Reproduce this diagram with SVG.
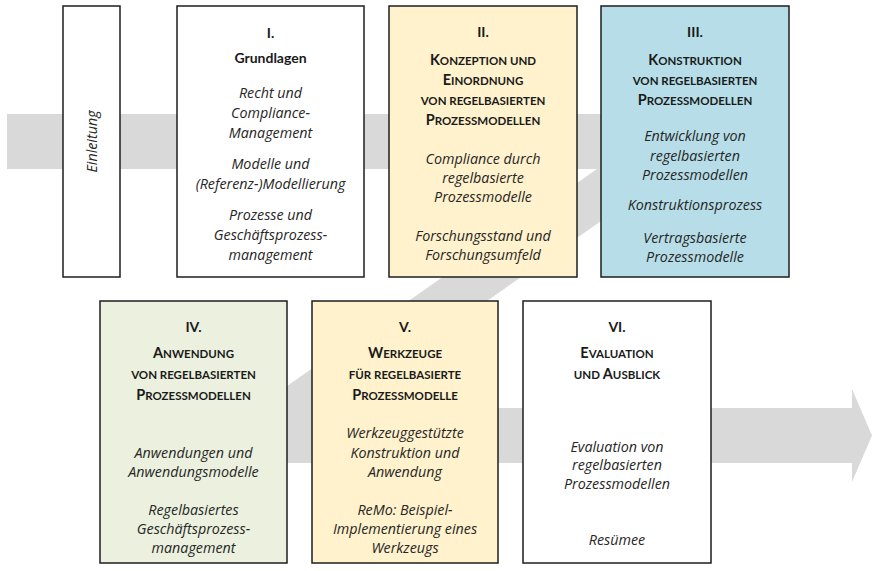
<svg xmlns="http://www.w3.org/2000/svg" width="872" height="571" viewBox="0 0 872 571">
  <defs>
    <filter id="soft" x="-5%" y="-5%" width="110%" height="110%">
      <feGaussianBlur stdDeviation="0.7"/>
    </filter>
    <style>
      .box { stroke: #1e1e1e; stroke-width: 1.5; }
      .white { fill: #ffffff; }
      .yellow { fill: #fff2cc; }
      .blue { fill: #b7dee8; }
      .green { fill: #ebf1de; }
      text { font-family: Lato, "Liberation Sans", sans-serif; fill: #1a1a1a; text-anchor: middle; }
      .num { font-size: 14px; font-weight: bold; }
      .head { font-size: 11.5px; font-weight: bold; }
      .cap { font-size: 14.5px; }
      .it { font-family: "Open Sans", "Liberation Sans", sans-serif; font-size: 14.3px; font-style: italic; fill: #262626; }
    </style>
  </defs>

  <g id="connectors">
    <polygon id="flow-arrow" fill="#d9d9d9" filter="url(#soft)"
      points="7,114 754,114 334,408 852,408 852,389 872,435.5 852,482 852,463 177,463 597,169 7,169"/>
  </g>

  <g id="einleitung">
    <rect class="box white" x="63" y="6" width="57" height="271"/>
    <text class="it" transform="translate(96.5,141.5) rotate(-90)">Einleitung</text>
  </g>

  <g id="node-1">
    <rect class="box white" x="177" y="6" width="187" height="271"/>
    <text class="num" x="270.5" y="38">I.</text>
    <text class="num" x="270.5" y="63">Grundlagen</text>
    <text class="it" x="270.5" y="98">Recht und</text>
    <text class="it" x="270.5" y="118">Compliance-</text>
    <text class="it" x="270.5" y="138">Management</text>
    <text class="it" x="270.5" y="169">Modelle und</text>
    <text class="it" x="270.5" y="189">(Referenz-)Modellierung</text>
    <text class="it" x="270.5" y="220">Prozesse und</text>
    <text class="it" x="270.5" y="240">Geschäftsprozess-</text>
    <text class="it" x="270.5" y="260">management</text>
  </g>

  <g id="node-2">
    <rect class="box yellow" x="389" y="6" width="188" height="271"/>
    <text class="num" x="483" y="37">II.</text>
    <text class="head" x="483" y="65"><tspan class="cap">K</tspan>ONZEPTION UND</text>
    <text class="head" x="483" y="85"><tspan class="cap">E</tspan>INORDNUNG</text>
    <text class="head" x="483" y="105">VON REGELBASIERTEN</text>
    <text class="head" x="483" y="125"><tspan class="cap">P</tspan>ROZESSMODELLEN</text>
    <text class="it" x="483" y="164">Compliance durch</text>
    <text class="it" x="483" y="183">regelbasierte</text>
    <text class="it" x="483" y="202">Prozessmodelle</text>
    <text class="it" x="483" y="241">Forschungsstand und</text>
    <text class="it" x="483" y="260">Forschungsumfeld</text>
  </g>

  <g id="node-3">
    <rect class="box blue" x="601" y="6" width="188" height="271"/>
    <text class="num" x="695" y="37">III.</text>
    <text class="head" x="695" y="65"><tspan class="cap">K</tspan>ONSTRUKTION</text>
    <text class="head" x="695" y="85">VON REGELBASIERTEN</text>
    <text class="head" x="695" y="105"><tspan class="cap">P</tspan>ROZESSMODELLEN</text>
    <text class="it" x="695" y="141">Entwicklung von</text>
    <text class="it" x="695" y="161">regelbasierten</text>
    <text class="it" x="695" y="180">Prozessmodellen</text>
    <text class="it" x="695" y="210">Konstruktionsprozess</text>
    <text class="it" x="695" y="243">Vertragsbasierte</text>
    <text class="it" x="695" y="262">Prozessmodelle</text>
  </g>

  <g id="node-4">
    <rect class="box green" x="100" y="301" width="187" height="262"/>
    <text class="num" x="193.5" y="332">IV.</text>
    <text class="head" x="193.5" y="358"><tspan class="cap">A</tspan>NWENDUNG</text>
    <text class="head" x="193.5" y="379">VON REGELBASIERTEN</text>
    <text class="head" x="193.5" y="400"><tspan class="cap">P</tspan>ROZESSMODELLEN</text>
    <text class="it" x="193.5" y="458">Anwendungen und</text>
    <text class="it" x="193.5" y="477">Anwendungsmodelle</text>
    <text class="it" x="193.5" y="515">Regelbasiertes</text>
    <text class="it" x="193.5" y="534">Geschäftsprozess-</text>
    <text class="it" x="193.5" y="553">management</text>
  </g>

  <g id="node-5">
    <rect class="box yellow" x="312" y="301" width="186" height="262"/>
    <text class="num" x="405" y="332">V.</text>
    <text class="head" x="405" y="358"><tspan class="cap">W</tspan>ERKZEUGE</text>
    <text class="head" x="405" y="379">FÜR REGELBASIERTE</text>
    <text class="head" x="405" y="400"><tspan class="cap">P</tspan>ROZESSMODELLE</text>
    <text class="it" x="405" y="438">Werkzeuggestützte</text>
    <text class="it" x="405" y="458">Konstruktion und</text>
    <text class="it" x="405" y="477">Anwendung</text>
    <text class="it" x="405" y="515">ReMo: Beispiel-</text>
    <text class="it" x="405" y="534">Implementierung eines</text>
    <text class="it" x="405" y="553">Werkzeugs</text>
  </g>

  <g id="node-6">
    <rect class="box white" x="523" y="301" width="188" height="262"/>
    <text class="num" x="617" y="332">VI.</text>
    <text class="head" x="617" y="358"><tspan class="cap">E</tspan>VALUATION</text>
    <text class="head" x="617" y="379">UND <tspan class="cap">A</tspan>USBLICK</text>
    <text class="it" x="617" y="452">Evaluation von</text>
    <text class="it" x="617" y="470">regelbasierten</text>
    <text class="it" x="617" y="489">Prozessmodellen</text>
    <text class="it" x="617" y="545">Resümee</text>
  </g>
</svg>
